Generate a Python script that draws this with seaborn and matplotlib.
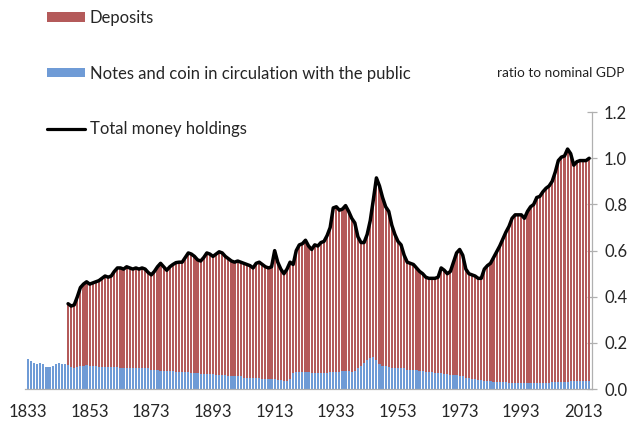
import numpy as np
import pandas as pd
import matplotlib
matplotlib.use('Agg')
import matplotlib.pyplot as plt
import seaborn as sns
from matplotlib.patches import Patch
from matplotlib.lines import Line2D

# ratio to nominal GDP, one value per year
notes_years = list(range(1833, 2016))
notes = [
    0.13, 0.12, 0.115, 0.11, 0.115, 0.11, 0.095,                      # 1833-1839
    0.095, 0.10, 0.11, 0.115, 0.11, 0.11, 0.105, 0.095, 0.09, 0.095,  # 1840s
    0.10, 0.10, 0.105, 0.10, 0.10, 0.10, 0.095, 0.095, 0.095, 0.095,  # 1850s
    0.095, 0.095, 0.095, 0.09, 0.09, 0.09, 0.09, 0.09, 0.09, 0.09,    # 1860s
    0.09, 0.09, 0.09, 0.085, 0.085, 0.085, 0.08, 0.08, 0.08, 0.08,    # 1870s
    0.08, 0.075, 0.075, 0.075, 0.075, 0.075, 0.07, 0.07, 0.07, 0.065, # 1880s
    0.065, 0.065, 0.065, 0.065, 0.06, 0.06, 0.06, 0.06, 0.055, 0.055, # 1890s
    0.055, 0.055, 0.055, 0.05, 0.05, 0.05, 0.05, 0.05, 0.05, 0.045,   # 1900s
    0.045, 0.045, 0.045, 0.045, 0.04, 0.04, 0.035, 0.035, 0.045, 0.07, # 1910s
    0.075, 0.075, 0.075, 0.075, 0.075, 0.07, 0.07, 0.07, 0.07, 0.07,  # 1920s
    0.07, 0.075, 0.075, 0.075, 0.075, 0.08, 0.08, 0.08, 0.075, 0.08,  # 1930s
    0.09, 0.10, 0.115, 0.125, 0.135, 0.14, 0.125, 0.11, 0.10, 0.10,   # 1940s
    0.095, 0.09, 0.09, 0.09, 0.09, 0.09, 0.085, 0.085, 0.085, 0.085,  # 1950s
    0.08, 0.08, 0.075, 0.075, 0.075, 0.07, 0.07, 0.07, 0.065, 0.065,  # 1960s
    0.06, 0.06, 0.06, 0.055, 0.055, 0.05, 0.05, 0.045, 0.045, 0.04,   # 1970s
    0.04, 0.035, 0.035, 0.035, 0.03, 0.03, 0.03, 0.03, 0.03, 0.025,   # 1980s
    0.025, 0.025, 0.025, 0.025, 0.025, 0.025, 0.025, 0.025, 0.025, 0.025,  # 1990s
    0.025, 0.025, 0.025, 0.03, 0.03, 0.03, 0.03, 0.03, 0.03, 0.035,   # 2000s
    0.035, 0.035, 0.035, 0.035, 0.035, 0.035,                         # 2010-2015
]

total_years = list(range(1846, 2016))
total = [
    0.37, 0.36, 0.365, 0.40,                                          # 1846-1849
    0.44, 0.455, 0.465, 0.455, 0.46, 0.465, 0.47, 0.48, 0.49, 0.485,  # 1850s
    0.49, 0.51, 0.525, 0.525, 0.52, 0.53, 0.525, 0.52, 0.525, 0.52,   # 1860s
    0.525, 0.52, 0.505, 0.495, 0.51, 0.53, 0.545, 0.53, 0.515, 0.53,  # 1870s
    0.54, 0.548, 0.55, 0.55, 0.57, 0.59, 0.585, 0.575, 0.56, 0.555,   # 1880s
    0.57, 0.59, 0.585, 0.575, 0.585, 0.595, 0.59, 0.575, 0.565, 0.555, # 1890s
    0.55, 0.555, 0.55, 0.545, 0.54, 0.535, 0.525, 0.545, 0.55, 0.54,  # 1900s
    0.53, 0.525, 0.53, 0.60, 0.55, 0.52, 0.50, 0.52, 0.55, 0.54,      # 1910s
    0.60, 0.625, 0.63, 0.645, 0.62, 0.605, 0.625, 0.62, 0.635, 0.64,  # 1920s
    0.665, 0.70, 0.785, 0.79, 0.775, 0.78, 0.795, 0.77, 0.74, 0.72,   # 1930s
    0.66, 0.635, 0.635, 0.67, 0.73, 0.82, 0.915, 0.88, 0.83, 0.79,    # 1940s
    0.77, 0.71, 0.67, 0.64, 0.625, 0.58, 0.55, 0.545, 0.54, 0.525,    # 1950s
    0.51, 0.50, 0.485, 0.48, 0.48, 0.48, 0.485, 0.525, 0.515, 0.50,   # 1960s
    0.51, 0.55, 0.59, 0.605, 0.58, 0.52, 0.50, 0.495, 0.49, 0.48,     # 1970s
    0.48, 0.52, 0.535, 0.545, 0.57, 0.595, 0.62, 0.65, 0.68, 0.705,   # 1980s
    0.74, 0.755, 0.755, 0.755, 0.74, 0.77, 0.79, 0.80, 0.83, 0.835,   # 1990s
    0.855, 0.87, 0.88, 0.90, 0.94, 0.99, 1.005, 1.01, 1.04, 1.02,     # 2000s
    0.97, 0.985, 0.99, 0.99, 0.99, 1.0,                               # 2010-2015
]

tick_years = list(range(1833, 2014, 20))
y_ticks = [0.0, 0.2, 0.4, 0.6, 0.8, 1.0, 1.2]

DEPOSIT_COLOR = '#b45a5a'
NOTES_COLOR = '#6f9bd6'

sns.set_style('white')
plt.rcParams['font.family'] = ['Lato', 'DejaVu Sans']

df_notes = pd.DataFrame({'year': notes_years, 'value': notes})
df_total = pd.DataFrame({'year': total_years, 'value': total})

fig = plt.figure(figsize=(6.32, 4.23), dpi=100)
ax = fig.add_axes([0.0394, 0.080, 0.8977, 0.655])

# deposits sit on top of notes and coin, so the full bar height is the total
sns.barplot(data=df_total, x='year', y='value', native_scale=True,
            color=DEPOSIT_COLOR, saturation=1, width=0.7, errorbar=None,
            linewidth=0, ax=ax)
sns.barplot(data=df_notes, x='year', y='value', native_scale=True,
            color=NOTES_COLOR, saturation=1, width=0.7, errorbar=None,
            linewidth=0, ax=ax)
sns.lineplot(data=df_total, x='year', y='value', color='black',
             linewidth=2.5, ax=ax)

ax.set_xlim(1832, 2016)
ax.set_ylim(0, 1.2)
ax.set_xlabel('')
ax.set_ylabel('')

ax.yaxis.tick_right()
ax.set_yticks(y_ticks)
ax.set_yticklabels([f'{v:.1f}' for v in y_ticks])
ax.set_xticks(tick_years)
ax.set_xticklabels([str(y) for y in tick_years])
ax.set_xticks(notes_years, minor=True)

for side in ['left', 'top']:
    ax.spines[side].set_visible(False)
for side in ['right', 'bottom']:
    ax.spines[side].set_color('#b0b0b0')
    ax.spines[side].set_linewidth(0.9)

ax.tick_params(axis='x', which='both', direction='out', length=5,
               width=0.6, color='#c0c0c0', labelsize=12, pad=6)
ax.tick_params(axis='y', which='major', direction='inout', length=7,
               width=0.9, color='#b0b0b0', labelsize=12, pad=5,
               right=True, left=False)

fig.text(0.786, 0.818, 'ratio to nominal GDP', fontsize=9.8, color='#222222')

handles = [
    Patch(facecolor=DEPOSIT_COLOR, edgecolor='none'),
    Patch(facecolor=NOTES_COLOR, edgecolor='none'),
    Line2D([0], [0], color='black', linewidth=2.3),
]
labels = ['Deposits', 'Notes and coin in circulation with the public',
          'Total money holdings']
fig.legend(handles, labels, loc='upper left', bbox_to_anchor=(0.058, 1.0),
           frameon=False, fontsize=12, labelspacing=2.38, handlelength=2.3,
           handleheight=0.5, handletextpad=0.3, borderaxespad=0.2)

fig.savefig('out.png', dpi=100)
